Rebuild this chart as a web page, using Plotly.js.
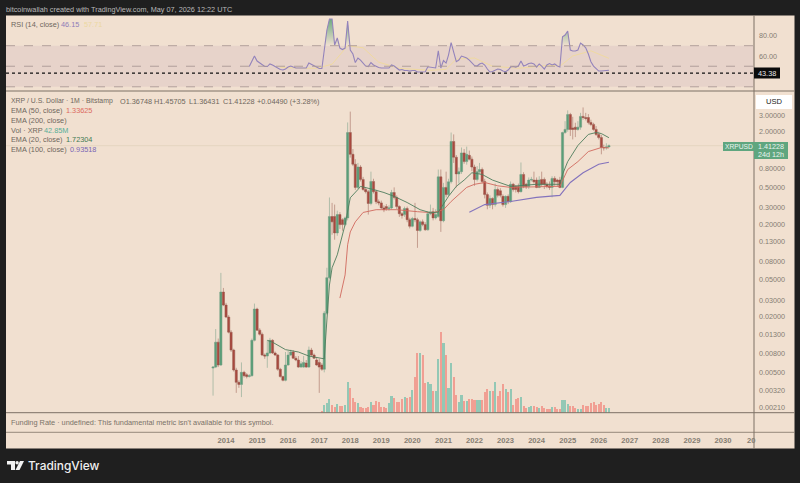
<!DOCTYPE html>
<html><head><meta charset="utf-8">
<script src="https://cdn.plot.ly/plotly-3.0.1.min.js"></script>
<style>html,body{margin:0;padding:0;background:#1f1f1f}#c{width:800px;height:483px}</style>
</head><body><div id="c"></div>
<script>
const open_=[.00556,.0057,.0106,.006,.0369,.0267,.0198,.0136,.0087,.0053,
.0039,.0037,.005,.0047,.0045,.0046,.0111,.0242,.0143,.0129,
.0077,.0075,.0081,.0111,.0081,.0077,.0054,.0045,.0041,.006,
.0077,.0083,.0071,.0068,.0057,.0057,.0063,.0057,.0087,.0077,
.0068,.0064,.006,.0054,.0218,.0528,.242,.242,.161,.254,
.224,.198,.234,1.96,1.14,.89,.5,.83,.61,.474,
.45,.335,.58,.45,.35,.34,.3,.31,.295,.3,
.44,.39,.31,.26,.254,.295,.224,.19,.23,.224,
.171,.212,.198,.174,.26,.273,.234,.242,.65,.218,
.5,.418,.575,1.57,1.06,.7,.74,1.18,.95,1.11,
1.01,.83,.61,.74,.78,.58,.418,.32,.38,.326,
.474,.46,.4,.326,.4,.35,.54,.51,.51,.45,
.69,.54,.51,.6,.6,.6,.5,.61,.61,.54,
.52,.5,.625,.6,.6,.5,1.96,2.12,3.07,2.2,
2.24,2.12,2.24,2.93,2.85,2.85,2.52,2.4,2.12,1.87,
1.73,1.35,1.34,1.36748];
const close_=[.0057,.0106,.006,.0369,.0267,.0198,.0136,.0087,.0053,.0039,
.0037,.005,.0046,.0045,.0046,.0111,.0242,.0143,.0129,.0077,
.0075,.0081,.0111,.0081,.0077,.0054,.0045,.0041,.006,.0077,
.0083,.0071,.0068,.0057,.0062,.0064,.0057,.0087,.0077,.0071,
.006,.0057,.0054,.0218,.0528,.242,.212,.161,.254,.198,
.198,.234,1.96,1.14,.89,.5,.83,.61,.474,.45,
.335,.58,.45,.35,.34,.3,.287,.295,.3,.44,
.39,.31,.26,.248,.295,.224,.19,.23,.224,.171,
.212,.198,.174,.26,.273,.234,.254,.65,.218,.5,
.418,.575,1.57,1.06,.7,.74,1.18,.95,1.14,1.01,
.83,.61,.74,.78,.58,.418,.32,.38,.326,.474,
.41,.41,.326,.4,.35,.54,.474,.474,.45,.69,
.51,.51,.6,.61,.575,.5,.6,.54,.54,.51,
.5,.625,.575,.575,.5,1.96,2.12,3.07,2.12,2.12,
2.12,2.24,2.93,2.85,2.78,2.52,2.4,2.12,1.87,1.73,
1.35,1.34,1.37,1.41228];
const high_=[.00585,.0147,.0116,.0595,.0409,.0282,.0208,.0143,.009,.0056,
.0041,.0064,.0052,.0049,.0048,.0116,.0277,.025,.015,.0135,
.008,.0111,.0118,.0114,.0084,.0079,.0056,.0046,.0083,.0085,
.0088,.0087,.0075,.0075,.0066,.0075,.0068,.0095,.0092,.008,
.0073,.007,.0063,.023,.0676,.389,.34,.326,.28,.27,
.232,.242,2.52,3.3,1.3,1.01,.92,.87,.65,.5,
.47,.74,.62,.47,.37,.36,.32,.33,.32,.47,
.5,.41,.32,.27,.31,.31,.235,.24,.34,.235,
.22,.225,.21,.275,.326,.3,.29,.78,.78,.56,
.74,.62,1.96,1.87,1.12,.82,1.35,1.3,1.38,1.25,
1.08,.88,.85,.92,.82,.62,.44,.41,.39,.55,
.5,.49,.42,.41,.42,.58,.56,.53,.55,.93,
.73,.56,.64,.65,.74,.64,.66,.74,.64,.57,
.58,.66,.66,.62,.65,2.0,2.6,3.4,3.2,2.9,
2.5,2.6,3.2,3.66,3.2,3.1,2.7,2.5,2.3,2.0,
1.85,1.45,1.5,1.45705];
const low_=[.0028,.00556,.0057,.00585,.026,.0193,.0132,.0083,.0051,.003,
.0034,.0027,.0044,.0043,.0044,.0045,.0108,.014,.0125,.0075,
.007,.0056,.0079,.0079,.0075,.0052,.0044,.004,.004,.0059,
.0075,.007,.0066,.0056,.0056,.0056,.0056,.0056,.0075,.007,
.0059,.003,.0052,.005,.021,.051,.154,.136,.15,.178,
.17,.19,.22,1.05,.85,.47,.48,.58,.46,.43,
.254,.32,.43,.33,.32,.29,.27,.28,.28,.29,
.37,.29,.24,.23,.24,.21,.18,.185,.21,.111,
.165,.19,.17,.17,.25,.22,.225,.235,.165,.21,
.39,.4,.55,.92,.5,.55,.7,.9,.88,.98,
.75,.52,.58,.7,.55,.38,.29,.3,.29,.31,
.39,.39,.31,.3,.33,.34,.45,.44,.43,.44,
.49,.48,.48,.58,.55,.49,.49,.51,.48,.49,
.47,.39,.52,.51,.49,.49,1.9,2.0,1.8,1.65,
1.75,2.05,2.1,2.7,2.65,2.4,2.3,2.05,1.8,1.65,
1.14,1.25,1.28,1.36431];
const volumeM=[17,65,85,119,65,51,74,57,60,68,264,213,128,94,85,51,40,37,51,94,68,102,94,51,51,43,85,145,128,94,94,119,136,128,136,196,306,502,502,493,255,264,247,187,187,459,680,587,485,213,417,306,153,94,153,102,102,119,119,111,111,111,111,179,204,187,187,264,145,187,247,204,179,204,68,119,128,136,60,43,51,60,60,51,43,60,43,34,34,51,51,34,34,111,111,77,60,60,43,34,34,68,60,60,85,94,68,77,94,68,43,42.85];
const rsi=[49.7,55.1,59.9,55.1,53.1,51.2,49.7,49.7,52.2,51.2,
49.7,48.3,46.8,46.3,47.3,49.2,50.2,49.2,48.3,48.3,
48.3,48.3,48.3,53.1,51.7,50.2,49.2,47.8,47.8,68.7,
85.3,96,96,70.7,77.5,67.7,66.3,67.7,94,65.8,
61.9,53.6,58,56,53.1,50.2,49.7,53.6,51.2,49.7,
48.7,48.3,48.3,48.3,48.3,51.2,50.2,48.3,46.3,46.8,
45.8,45.8,45.3,45.8,45.8,44.4,44.4,44.7,44.7,49.5,
49.2,48.3,48.3,65.1,48.3,55.6,53.1,60.9,72.9,63.8,
54.4,56,59.9,59,58,56,53.1,50.7,50.2,52.2,
53.1,51.2,47.3,44.4,44.8,46.3,47.3,46.8,45.3,44.7,
46.3,49.2,49.7,49.2,50.2,55.1,50.2,51.2,52.6,53.1,
52.2,49.2,52.2,50.2,47.3,51.2,52.6,51.2,52.2,50.2,
49.2,78.7,80.4,84.3,65.8,64.8,64.8,65.8,72.6,70.7,
68,61.9,54.4,50.2,47.3,45.3,45.3,45.6,45.6,46.15];
const rsiMaDates=['2015-10','2016-06','2016-12','2017-06','2017-12','2018-06','2018-12','2019-08','2020-08','2021-02','2021-06','2022-01','2022-08','2023-06','2024-06','2024-10','2025-03','2025-10','2026-05'];
const rsiMa=[49,48,48,52,70,68,54,48,46,47,57,58,50,48,51,50,60,65,57.71];
const ema20Dates=['2015-05','2015-07','2015-12','2016-05','2016-09','2017-03','2017-04','2017-05','2017-06','2017-08','2017-11','2017-12','2018-01','2018-04','2018-05','2018-10','2019-02','2019-06','2019-11','2020-04','2020-08','2020-11','2021-02','2021-03','2021-06','2021-09','2021-12','2022-04','2022-08','2023-03','2024-01','2024-10','2024-11','2025-01','2025-05','2025-09','2025-12','2026-02','2026-05'];
const ema20=[.0111,.0106,.0088,.0083,.0075,.007,.0184,.044,.0676,.0933,.198,.27,.386,.474,.513,.474,.44,.4,.343,.287,.266,.27,.369,.4,.513,.6,.72,.69,.6,.513,.54,.54,.69,.95,1.42,1.87,1.96,1.91,1.72304];
const ema50Dates=['2017-09','2017-11','2017-12','2018-01','2018-03','2018-06','2018-11','2019-07','2020-03','2020-09','2021-01','2021-04','2021-10','2022-01','2022-05','2022-10','2023-03','2024-10','2025-01','2025-05','2025-09','2026-02','2026-05'];
const ema50=[.0318,.0566,.12,.165,.212,.268,.287,.287,.273,.266,.287,.352,.5,.54,.565,.52,.5,.514,.78,.95,1.22,1.35,1.33625];
const ema100Dates=['2021-11','2022-05','2023-03','2024-01','2024-10','2025-02','2025-07','2026-01','2026-05'];
const ema100=[.27,.326,.352,.39,.41,.565,.72,.89,.93518];
const priceTicks=[3,2,.8,.5,.3,.2,.13,.08,.05,.03,.02,.013,.008,.005,.0032,.0021];
const rsiTicks=[80,60];
const yearTicks=[2014,2015,2016,2017,2018,2019,2020,2021,2022,2023,2024,2025,2026,2027,2028,2029,2030];

const months=open_.map((_,i)=>{const t=2013*12+7+i;return Math.floor(t/12)+'-'+String(t%12+1).padStart(2,'0')+'-01';});
const W=800,H=483;
const px=x=>x/W, py=y=>1-y/H;
const F='"Liberation Sans",Arial,sans-serif';
const PEACH='#f1e0d0',GRID='#7d7165',LABEL='#857d72';
const UP='#5a9f78',DN='#a9483e';
const dark='#1f1f1f';

const volColors=volumeM.map((_,k)=>{const i=open_.length-volumeM.length+k;return close_[i]>=open_[i]?'rgba(88,186,165,.62)':'rgba(240,128,118,.68)';});
const rsiX=months.slice(-rsi.length);
const traces=[
 {type:'bar',x:months.slice(-volumeM.length),y:volumeM,yaxis:'y2',xaxis:'x',marker:{color:volColors,line:{width:0}},width:2.1e9,hoverinfo:'skip'},
 {type:'scatter',mode:'lines',x:ema100Dates,y:ema100,line:{color:'#8473bc',width:1.1},yaxis:'y',xaxis:'x'},
 {type:'scatter',mode:'lines',x:ema50Dates,y:ema50,line:{color:'#d0695e',width:.9},yaxis:'y',xaxis:'x'},
 {type:'scatter',mode:'lines',x:ema20Dates,y:ema20,line:{color:'#4e7d5c',width:.9},yaxis:'y',xaxis:'x'},
 {type:'candlestick',x:months,open:open_,high:high_,low:low_,close:close_,yaxis:'y',xaxis:'x',whiskerwidth:0,
  increasing:{line:{color:'#6f9a80',width:.5},fillcolor:UP},decreasing:{line:{color:'#96594d',width:.5},fillcolor:DN}},
 {type:'scatter',mode:'lines',x:rsiX,y:rsi.map(()=>70),line:{width:0},yaxis:'y3',xaxis:'x',hoverinfo:'skip'},
 {type:'scatter',mode:'lines',x:rsiX,y:rsi.map(v=>Math.max(v,70)),line:{width:0},yaxis:'y3',xaxis:'x',fill:'tonexty',hoverinfo:'skip',
  fillgradient:{type:'vertical',start:70,stop:100,colorscale:[[0,'rgba(80,160,110,0)'],[1,'rgba(80,160,110,.95)']]}},
 {type:'scatter',mode:'lines',x:rsiMaDates,y:rsiMa,line:{color:'#efd9a0',width:1},yaxis:'y3',xaxis:'x'},
 {type:'scatter',mode:'lines',x:rsiX,y:rsi,line:{color:'#9383bb',width:1.1},yaxis:'y3',xaxis:'x'}
];

const rect=(x0,y0,x1,y1,fill,layer)=>({type:'rect',xref:'paper',yref:'paper',x0:px(x0),x1:px(x1),y0:py(y0),y1:py(y1),fillcolor:fill,line:{width:0},layer:layer||'below'});
const hline=(x0,x1,y,c,w)=>({type:'line',xref:'paper',yref:'paper',x0:px(x0),x1:px(x1),y0:py(y),y1:py(y),line:{color:c,width:w||1},layer:'above'});
const vline=(x,y0,y1,c,w)=>({type:'line',xref:'paper',yref:'paper',x0:px(x),x1:px(x),y0:py(y0),y1:py(y1),line:{color:c,width:w||1},layer:'above'});
const rsiLine=(v,c,d,w)=>({type:'line',xref:'paper',x0:px(6),x1:px(754),yref:'y3',y0:v,y1:v,line:{color:c,dash:d,width:w},layer:'above'});
const toPath=pts=>'M'+pts.map(p=>px(p[0])+','+py(p[1])).join('L')+'Z';
const shapes=[
 rect(6,15.5,794.5,448.5,PEACH),
 {type:'rect',xref:'paper',x0:px(6),x1:px(754),yref:'y3',y0:30,y1:70,fillcolor:'#e7d3ca',line:{width:0},layer:'below'},
 rsiLine(70,'#ab9a96','dash',.9),rsiLine(50,'#ab9a96','dash',.9),rsiLine(30,'#ab9a96','dash',.9),
 rsiLine(43.38,'#111','dot',1.2),
 {type:'line',xref:'paper',x0:px(6),x1:px(754),yref:'y',y0:1.41228,y1:1.41228,line:{color:'#e4d6c0',width:1},layer:'below'},
 hline(6,794.5,91,GRID,1),hline(6,794.5,412.7,GRID,1),hline(6,794.5,432.3,GRID,.8),
 vline(754,15.5,448.5,GRID,1),
 {type:'rect',xref:'paper',yref:'paper',x0:px(756),x1:px(792),y0:py(95),y1:py(109),fillcolor:'#fff',line:{width:0},layer:'above'},
 rect(754,67.5,780,78.5,'#0b0b0b','above'),
 rect(723,142,754,151,'#5fa67f','above'),
 rect(754,142,788,159,'#5fa67f','above'),
 {type:'path',xref:'paper',yref:'paper',path:toPath([[7,461],[15,461],[15,470],[11,470],[11,464.5],[7,464.5]]),fillcolor:'#f2f2f2',line:{width:0},layer:'above'},
 {type:'circle',xref:'paper',yref:'paper',x0:px(15.4),x1:px(18.8),y0:py(461),y1:py(464.4),fillcolor:'#f2f2f2',line:{width:0},layer:'above'},
 {type:'path',xref:'paper',yref:'paper',path:toPath([[20,461],[24,461],[19.5,470],[15.5,470]]),fillcolor:'#f2f2f2',line:{width:0},layer:'above'}
];
const t=(x,y,text,color,size,opt)=>Object.assign({xref:'paper',yref:'paper',x:px(x),y:py(y),text,showarrow:false,xanchor:'left',yanchor:'middle',borderpad:0,borderwidth:0,
  font:{family:F,size:size||7.3,color:color||'#6f675d'}},opt||{});
const annotations=[
 t(6,9,'bitcoinwallah created with TradingView.com, May 07, 2026 12:22 UTC','#b9b9b9',7.3),
 t(10.5,24.5,'RSI (14, close)'),t(61,24.5,'46.15','#8f7db8'),t(84,24.5,'57.71','#ecd8a0'),
 t(10.5,101,'XRP / U.S. Dollar · 1M · Bitstamp','#6f675d',6.9),
 t(119.5,101,'O1.36748'),t(154,101,'H1.45705'),t(189,101,'L1.36431'),t(223,101,'C1.41228'),t(257,101,'+0.04490 (+3.28%)'),
 t(10.5,110.7,'EMA (50, close)'),t(66,110.7,'1.33625','#dc6a60'),
 t(10.5,120.5,'EMA (200, close)'),
 t(10.5,130.3,'Vol · XRP'),t(44,130.3,'42.85M','#58ae98'),
 t(10.5,140,'EMA (20, close)'),t(66,140,'1.72304','#3f7a52'),
 t(10.5,150,'EMA (100, close)'),t(70,150,'0.93518','#7a66b4'),
 t(10.5,422.5,'Funding Rate · undefined: This fundamental metric isn\'t available for this symbol.','#7a7268',7.35),
 t(774,102,'USD','#222',7.6,{xanchor:'center'}),
 t(767,73,'43.38','#e8e8e8',7.3,{xanchor:'center'}),
 t(738.5,146.3,'XRPUSD','#eaf4ee',6.7,{xanchor:'center'}),
 t(771,146.3,'1.41228','#eaf4ee',7.2,{xanchor:'center'}),
 t(771,154.3,'24d 12h','#eaf4ee',7.2,{xanchor:'center'}),
 t(746.5,440.3,'<b>20</b>',LABEL,7.6),
 t(28,465.5,'TradingView','#f0f0f0',11.9,{font:{family:'Inter,'+F,size:11.9,color:'#f0f0f0',weight:500}})
];
const layout={
 width:W,height:H,margin:{l:0,r:0,t:0,b:0,pad:0},paper_bgcolor:dark,plot_bgcolor:'rgba(0,0,0,0)',showlegend:false,
 font:{family:F},hovermode:false,bargap:0,boxgap:.08,boxgroupgap:0,
 xaxis:{type:'date',domain:[px(6),px(754)],range:['2006-12-01','2031-01-01'],anchor:'free',position:py(432.3),rangeslider:{visible:false},
  tickmode:'array',tickvals:yearTicks.map(y=>y+'-01-01'),ticktext:yearTicks.map(y=>'<b>'+y+'</b>'),ticks:'',showgrid:false,zeroline:false,showline:false,
  tickfont:{family:F,size:7.6,color:LABEL},ticklabelstandoff:2},
 yaxis:{type:'log',domain:[py(412.7),py(91)],range:[-2.7374,.7414],side:'right',anchor:'x',showgrid:false,zeroline:false,showline:false,ticks:'',
  tickmode:'array',tickvals:priceTicks,ticktext:priceTicks.map(v=>v.toFixed(5)),tickfont:{family:F,size:7.2,color:LABEL},ticklabelstandoff:4},
 yaxis2:{domain:[py(412.7),py(91)],range:[0,2726],overlaying:'y',visible:false,anchor:'x',fixedrange:true},
 yaxis3:{domain:[py(91),py(15.5)],range:[25.9,99.4],side:'right',anchor:'x',showgrid:false,zeroline:false,showline:false,ticks:'',
  tickmode:'array',tickvals:rsiTicks,ticktext:rsiTicks.map(v=>v.toFixed(2)),tickfont:{family:F,size:7.2,color:LABEL},ticklabelstandoff:4},
 shapes,annotations
};
Plotly.newPlot('c',traces,layout,{displayModeBar:false,staticPlot:true});
</script></body></html>
